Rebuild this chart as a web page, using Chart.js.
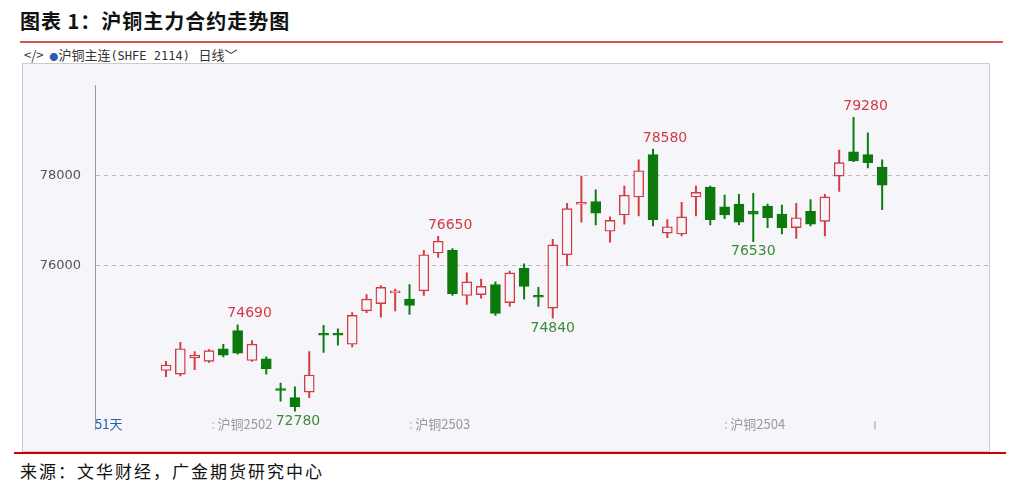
<!DOCTYPE html>
<html><head><meta charset="utf-8">
<script src="https://cdn.jsdelivr.net/npm/chart.js@4/dist/chart.umd.min.js"></script>
<style>
body{margin:0;width:1021px;height:491px;background:#fff;position:relative;overflow:hidden;font-family:"Noto Sans CJK SC",sans-serif}
#title{position:absolute;left:20px;top:6px;font-size:20px;font-weight:bold;color:#111;letter-spacing:1px}
#l1{position:absolute;left:20px;top:41px;width:983px;height:2px;background:#d9534f}
#bar{position:absolute;left:24px;top:45px;font-size:13px;color:#333}
#bar .b{color:#2a5db0;font-size:9px}
#panel{position:absolute;left:22px;top:63px;width:966px;height:387px;border:1px solid #ccc;background:#f5f5fa}
#c{display:block}
#l2{position:absolute;left:14px;top:452px;width:992px;height:2px;background:#c00}
#src{position:absolute;left:20px;top:458px;font-size:17px;color:#111;letter-spacing:2px}
</style></head><body>
<div id="title">图表 1：沪铜主力合约走势图</div>
<div id="l1"></div>
<div id="bar">&lt;/&gt;&nbsp; <span class="b">●</span>沪铜主连<span style="font-family:'DejaVu Sans Mono';font-size:12px">(SHFE 2114)</span>&nbsp;&nbsp; 日线﹀</div>
<div id="panel"><canvas id="c" width="966" height="387"></canvas></div>
<div id="l2"></div>
<div id="src">来源：文华财经，广金期货研究中心</div>
<script>
const opens  =[73680,73600,73960,73880,74160,74560,73900,73940,73280,73080,73200,74500,74500,74260,75000,75160,75400,75260,75440,76280,76340,75340,75360,75580,75180,75940,75340,75060,76240,77360,77420,76760,77120,77520,78460,76720,76700,77520,77740,77300,77360,77200,77320,77140,76840,77200,76980,77980,78520,78460,78180];
const highs  =[73880,74300,74100,74140,74260,74690,74340,73980,73400,73320,74100,74680,74600,74960,75360,75560,75480,75580,76340,76650,76380,75840,75700,75640,75880,76040,75520,76580,77380,77980,77680,77080,77760,78340,78580,77020,77400,77760,77760,77560,77580,77600,77360,77340,77380,77460,77580,78560,79280,78940,78340];
const lows   =[73540,73560,73700,73860,73980,74040,73880,73600,73000,72780,73080,74080,74240,74200,74960,74860,75000,74920,75340,76180,75340,75140,75280,74900,75100,75260,75100,74840,76000,76960,76900,76520,76920,77100,76880,76620,76660,77100,76900,77040,76900,76530,76840,76700,76600,76880,76660,77640,78300,78160,77240];
const closes =[73800,74160,74020,74120,74020,74060,74260,73720,73240,72880,73580,74460,74460,74900,75260,75520,75440,75120,76240,76540,75380,75640,75540,74940,75840,75540,75300,76460,77260,77400,77160,77000,77560,78100,77020,76860,77080,77620,77020,77120,76960,77140,77060,76840,77060,76920,77520,78280,78320,78280,77780];
const yTicks=[76000,78000];
const contractIdx=[3.6,17.4,39.4];
const contractLabels=['沪铜2502','沪铜2503','沪铜2504'];
const markIdx=[5,9,19,27,34,41,48];
const markVals=[74690,72780,76650,74840,78580,76530,79280];
const markType=['high','low','high','low','high','low','high'];

const RED='#d43a42',GREEN='#0b7a0b',BG='#f5f5fa';
const up=opens.map((o,i)=>closes[i]>=o);
const wick=highs.map((h,i)=>({x:i,y:[lows[i],h]}));
const body=opens.map((o,i)=>{let a=Math.min(o,closes[i]),b=Math.max(o,closes[i]);if(b-a<40){a-=20;b+=20;}return {x:i,y:[a,b]};});
const col=up.map(u=>u?RED:GREEN);

const marks={id:'marks',afterDatasetsDraw(ch){
 const c=ch.ctx,x=ch.scales.x,y=ch.scales.y,ca=ch.chartArea;
 c.save();c.font='14px "DejaVu Sans"';c.textAlign='center';
 markIdx.forEach((k,j)=>{
  const px=x.getPixelForValue(k),py=y.getPixelForValue(markVals[j]);
  if(markType[j]==='high'){c.fillStyle=RED;c.textBaseline='bottom';c.fillText(markVals[j],px+12,py-4);}
  else{c.fillStyle='#3d8a3d';c.textBaseline='top';c.fillText(markVals[j],px+(k===9?3:0),py+3);}
 });
 c.font='13px "Noto Sans CJK SC"';c.textBaseline='bottom';c.textAlign='left';
 contractIdx.forEach((k,j)=>{const px=x.getPixelForValue(k);c.fillStyle='#bbb';c.fillText(':',px-6,ca.bottom+1);c.fillStyle='#999';c.fillText(contractLabels[j],px,ca.bottom+1);});
 c.fillStyle='#2a5db0';c.fillText('51天',ca.left,ca.bottom+1);
 c.strokeStyle='#999';c.beginPath();c.moveTo(x.getPixelForValue(49.5),ca.bottom-8);c.lineTo(x.getPixelForValue(49.5),ca.bottom);c.stroke();
 c.restore();}};

new Chart(document.getElementById('c'),{
 type:'bar',
 data:{datasets:[
  {data:wick,backgroundColor:col,barThickness:1.3,grouped:false,order:2},
  {data:body,backgroundColor:up.map(u=>u?BG:GREEN),borderColor:col,borderWidth:1.4,borderSkipped:false,barThickness:10,grouped:false,order:1}
 ]},
 options:{responsive:false,animation:false,devicePixelRatio:1,
  layout:{padding:{top:4,bottom:2,right:0}},
  plugins:{legend:{display:false},tooltip:{enabled:false}},
  scales:{
   x:{type:'linear',min:-0.5,max:53,display:false},
   y:{min:72380,max:79980,afterFit(s){s.width=72;},
      afterBuildTicks(s){s.ticks=yTicks.map(v=>({value:v}));},
      ticks:{color:'#555',font:{size:13,family:'DejaVu Sans'},padding:14,callback:v=>String(v)},
      grid:{color:'#bbb',drawTicks:false},border:{color:'#999',dash:[4,4],width:1}}
  }},
 plugins:[marks]
});
</script>
</body></html>
